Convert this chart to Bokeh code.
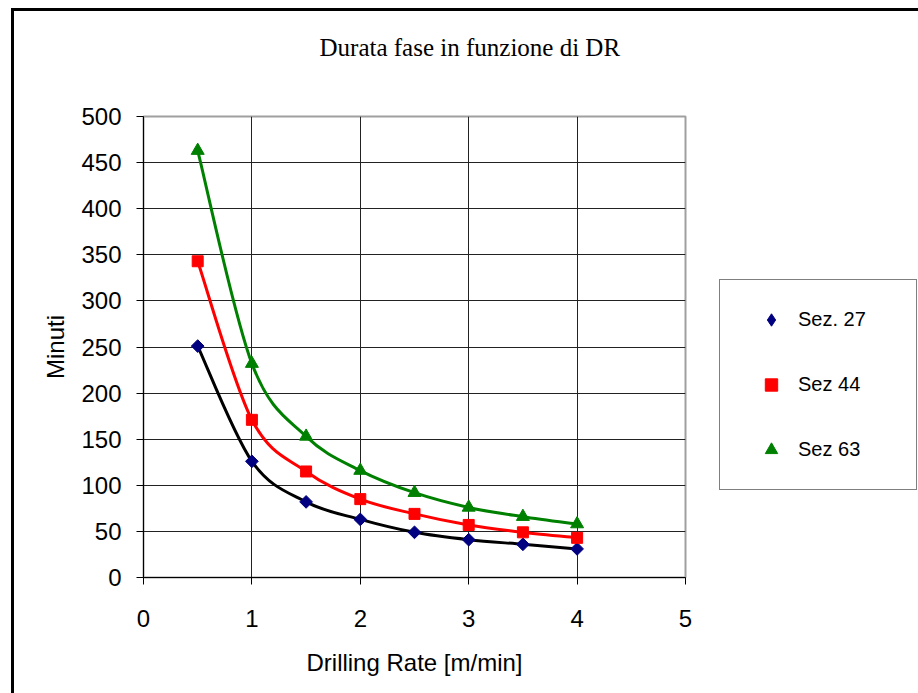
import math
from bokeh.plotting import figure
from bokeh.models import Legend, LegendItem, Title, FixedTicker, Range1d
from bokeh.embed import file_html
from bokeh.resources import INLINE

# ---- data ----
drill_rate = [0.5, 1.0, 1.5, 2.0, 2.5, 3.0, 3.5, 4.0]
sez27 = [251, 126, 82, 63, 49, 41, 36, 31]
sez44 = [343, 171, 115, 85, 69, 57, 49, 43]
sez63 = [463, 232, 153, 116, 92, 76, 66, 58]
series_names = ["Sez. 27", "Sez 44", "Sez 63"]
x_ticks = [0, 1, 2, 3, 4, 5]
y_ticks = list(range(0, 501, 50))

title_text = "Durata fase in funzione di DR"
x_title = "Drilling Rate [m/min]"
y_title = "Minuti"

SANS = "Liberation Sans"
SERIF = "Liberation Serif"

p = figure(
    frame_width=542, frame_height=461,
    min_border_left=129, min_border_right=233,
    min_border_top=105, min_border_bottom=116,
    x_range=Range1d(0, 5), y_range=Range1d(0, 500),
    output_backend="svg", toolbar_location=None,
    background_fill_color="white", border_fill_color="white",
)
p.styles = {"margin-left": "11px", "margin-top": "8px",
            "border-left": "3px solid black", "border-top": "3px solid black"}

# spacer between frame and title, then the title itself (stacked outward)
p.add_layout(Title(text=" ", text_font_size="1px", standoff=48), "above")
p.add_layout(Title(text=title_text, align="left", offset=176, standoff=10,
                   text_font=SERIF, text_font_size="25px",
                   text_font_style="normal", text_color="black"), "above")

p.outline_line_color = "#a0a0a0"
p.outline_line_width = 2

for ax in (p.xaxis[0], p.yaxis[0]):
    ax.axis_line_color = "black"
    ax.axis_line_width = 1
    ax.major_tick_line_color = "black"
    ax.major_tick_in = 0
    ax.major_tick_out = 7
    ax.minor_tick_line_color = None
    ax.major_label_text_font = SANS
    ax.major_label_text_font_size = "24px"
    ax.major_label_text_color = "black"
    ax.axis_label_text_font = SANS
    ax.axis_label_text_font_size = "24px"
    ax.axis_label_text_font_style = "normal"
    ax.axis_label_text_color = "black"

p.xaxis[0].ticker = FixedTicker(ticks=x_ticks)
p.yaxis[0].ticker = FixedTicker(ticks=y_ticks)
p.xaxis[0].axis_label = x_title
p.yaxis[0].axis_label = y_title
p.xaxis[0].major_label_standoff = 25
p.yaxis[0].major_label_standoff = 15
p.xaxis[0].axis_label_standoff = 19
p.yaxis[0].axis_label_standoff = 9

p.xgrid.ticker = FixedTicker(ticks=x_ticks)
p.ygrid.ticker = FixedTicker(ticks=y_ticks)
p.xgrid.grid_line_color = "#222222"
p.ygrid.grid_line_color = "#222222"
p.xgrid.grid_line_width = 1
p.ygrid.grid_line_width = 1


def smooth_segments(xs, ys, k=1.0 / 6.0):
    n = len(xs)
    out = dict(x0=[], y0=[], x1=[], y1=[], cx0=[], cy0=[], cx1=[], cy1=[])
    for i in range(n - 1):
        im1 = max(i - 1, 0)
        ip2 = min(i + 2, n - 1)
        out["x0"].append(xs[i]); out["y0"].append(ys[i])
        out["x1"].append(xs[i + 1]); out["y1"].append(ys[i + 1])
        out["cx0"].append(xs[i] + (xs[i + 1] - xs[im1]) * k)
        out["cy0"].append(ys[i] + (ys[i + 1] - ys[im1]) * k)
        out["cx1"].append(xs[i + 1] - (xs[ip2] - xs[i]) * k)
        out["cy1"].append(ys[i + 1] - (ys[ip2] - ys[i]) * k)
    return out


line_colors = ["black", "#ff0000", "#008000"]
marker_colors = ["#000080", "#ff0000", "#008000"]
markers = ["square", "square", "triangle"]
legend_markers = ["diamond", "square", "triangle"]
angles = [math.pi / 4, 0.0, 0.0]
sizes = [9, 11, 13]
all_series = [sez27, sez44, sez63]

legend_items = []
for ys, lc, mc, mk, lmk, ang, sz, name in zip(all_series, line_colors, marker_colors,
                                              markers, legend_markers, angles, sizes,
                                              series_names):
    seg = smooth_segments(drill_rate, ys)
    p.bezier(x0=seg["x0"], y0=seg["y0"], x1=seg["x1"], y1=seg["y1"],
             cx0=seg["cx0"], cy0=seg["cy0"], cx1=seg["cx1"], cy1=seg["cy1"],
             line_color=lc, line_width=3, line_cap="round")
    p.scatter(drill_rate, ys, marker=mk, angle=ang, size=sz,
              fill_color=mc, line_color=mc)
    # legend proxy (hidden in the plot; only its legend glyph is drawn)
    proxy = p.scatter(drill_rate[:1], ys[:1], marker=lmk, size=sz,
                      fill_color=mc, line_color=mc, visible=False)
    legend_items.append(LegendItem(label=name, renderers=[proxy]))

legend = Legend(
    items=legend_items,
    location=(34, 87),
    orientation="vertical",
    margin=0,
    padding=24,
    spacing=34,
    glyph_height=31,
    glyph_width=54,
    label_height=31,
    label_width=94,
    label_standoff=0,
    label_text_font=SANS,
    label_text_font_size="20px",
    label_text_color="black",
    border_line_color="black",
    border_line_width=1,
    background_fill_color="white",
    background_fill_alpha=1.0,
)
p.add_layout(legend, "right")

open("out.html", "w").write(file_html(p, INLINE))
